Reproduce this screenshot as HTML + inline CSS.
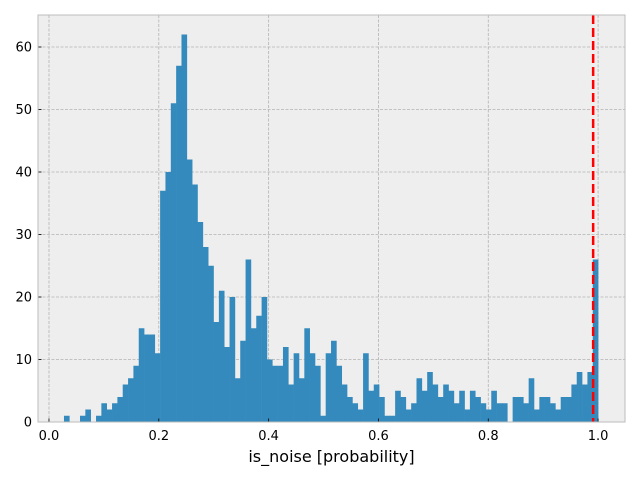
<!DOCTYPE html>
<html><head><meta charset="utf-8"><style>
html,body{margin:0;padding:0;background:#fff;}
svg text{font-family:"DejaVu Sans","Liberation Sans",sans-serif;fill:#000;}
</style></head><body>
<svg id="chart" width="640" height="480" xmlns="http://www.w3.org/2000/svg">
<rect x="38" y="15" width="587" height="407" fill="#eeeeee"/>
<g id="grid"></g><g id="bars"></g><g id="ticks"></g>
<rect x="38" y="15" width="587" height="407" fill="none" stroke="#bcbcbc" stroke-width="1"/>
<text x="331.5" y="462" font-size="16" text-anchor="middle">is_noise [probability]</text>
</svg>
<script>
const counts = [1,0,0,1,2,0,1,3,2,3,4,6,7,9,15,14,14,11,37,40,51,57,62,42,38,32,28,25,16,21,12,20,7,
13,26,15,17,20,10,9,9,12,6,11,7,15,11,9,1,11,13,9,6,4,3,2,11,5,6,4,1,1,5,4,2,3,7,5,
8,6,4,6,5,3,5,2,5,4,3,2,5,3,3,0,4,4,3,7,2,4,4,3,2,4,4,6,8,6,8,26];
const binStart = 0.0273, binEnd = 1.0;
const xTicks = [0.0,0.2,0.4,0.6,0.8,1.0];
const xTickLabels = ["0.0","0.2","0.4","0.6","0.8","1.0"];
const yTicks = [0,10,20,30,40,50,60];
const threshold = 0.991;
const NS="http://www.w3.org/2000/svg";
const X0=38,X1=625,Y0=15,Y1=422, xmin=-0.02, xmax=1.049, ymax=65.12;
const sx=v=>X0+(v-xmin)/(xmax-xmin)*(X1-X0);
const sy=v=>Y1-v/ymax*(Y1-Y0);
function mk(tag,attrs,parent){const e=document.createElementNS(NS,tag);for(const k in attrs)e.setAttribute(k,attrs[k]);parent.appendChild(e);return e;}
const grid=document.getElementById('grid'),bars=document.getElementById('bars'),ticks=document.getElementById('ticks');
xTicks.forEach((t,i)=>{
 const l=mk('line',{x1:sx(t),x2:sx(t),y1:Y0,y2:Y1,stroke:'#b2b2b2','stroke-width':0.8,'stroke-dasharray':'3,1.5'},grid);
 
 
 const tk=mk('line',{x1:sx(t),x2:sx(t),y1:Y1,y2:Y1-3.5,stroke:'#000','stroke-width':0.8},ticks);
 
 
 const tx=mk('text',{x:sx(t),y:Y1+18,'font-size':13,'text-anchor':'middle'},ticks);
 tx.textContent=xTickLabels[i];
 
 
});
yTicks.forEach(t=>{
 const l=mk('line',{x1:X0,x2:X1,y1:sy(t),y2:sy(t),stroke:'#b2b2b2','stroke-width':0.8,'stroke-dasharray':'3,1.5'},grid);
 
 
 const tk=mk('line',{x1:X0,x2:X0+3.5,y1:sy(t),y2:sy(t),stroke:'#000','stroke-width':0.8},ticks);
 
 
 const tx=mk('text',{x:X0-6,y:sy(t)+4.5,'font-size':13,'text-anchor':'end'},ticks);
 tx.textContent=String(t);
 
 
});
const w=(binEnd-binStart)/counts.length;
counts.forEach((c,i)=>{
 if(c<=0)return;
 const a=sx(binStart+i*w),b=sx(binStart+(i+1)*w);
 const r=mk('rect',{x:a,y:sy(c),width:b-a+0.3,height:Y1-sy(c),fill:'#348ABD'},bars);
 
 
});
const th=mk('line',{x1:sx(threshold),x2:sx(threshold),y1:Y0,y2:Y1,stroke:'#ff0000','stroke-width':2.5,'stroke-dasharray':'9,4'},bars);


</script>
</body></html>
